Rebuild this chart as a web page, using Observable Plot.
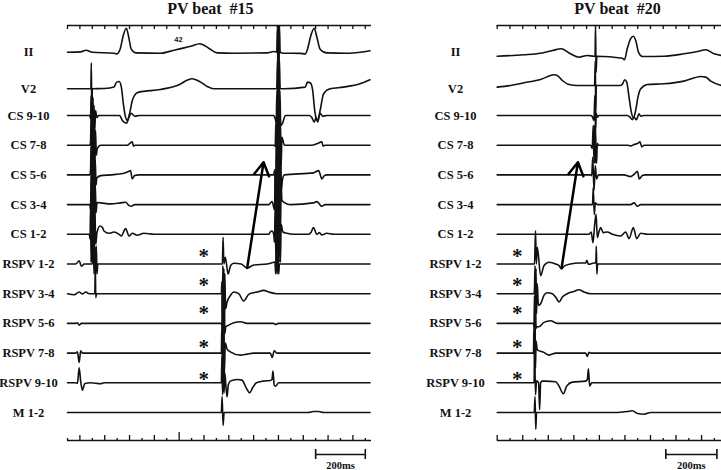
<!DOCTYPE html>
<html><head><meta charset="utf-8">
<script src="https://cdn.jsdelivr.net/npm/d3@7"></script>
<script src="https://cdn.jsdelivr.net/npm/@observablehq/plot@0.6"></script>
<style>
body{margin:0;background:#fff;}
#wrap{position:relative;width:721px;height:470px;overflow:hidden;background:#fff;}
#wrap svg{position:absolute;top:0;}
</style></head><body><div id="wrap"></div>
<script>
// ---------- labels ----------
const channels = ["II","V2","CS 9-10","CS 7-8","CS 5-6","CS 3-4","CS 1-2","RSPV 1-2","RSPV 3-4","RSPV 5-6","RSPV 7-8","RSPV 9-10","M 1-2"];
const titles = ["PV beat  #15","PV beat  #20"];
const scaleLabel = "200ms";
const markerLabel = "42";

// ---------- PV beat #15 : [time ms, amplitude] ----------
const b15_II = [[0,0],[53,0.3],[74,2],[100,0],[187,-1],[198,-1.7],[212,3],[225,17],[237,24],[246,16],[257,3],[275,-0.7],[375,-1],[429,2],[496,6],[533,8.5],[569,4],[603,-0.7],[670,-1],[804,-0.7],[831,0.7],[843,0],[846,26.7],[848,-28],[850,26.7],[852,-28],[854,26.7],[857,0],[871,-1],[938,-1.2],[958,-1.7],[967,3],[981,17],[994,24],[1005,15],[1018,3],[1045,-0.7],[1125,-1],[1179,0],[1219,1.5]];
const b15_V2 = [[0,0],[94,0],[96,26],[98,-26],[100,0],[150,0.3],[187,1.7],[198,6.7],[208,7.3],[217,1.7],[225,-15],[234,-28.3],[241,-31.7],[250,-25],[261,-11.7],[275,-5],[288,-3.3],[375,-0.7],[442,3.3],[502,10],[536,6.7],[563,2.3],[589,0],[831,0],[843,0],[846,28],[848,-28],[850,28],[852,-28],[854,28],[857,0],[871,0],[958,1.7],[967,6.7],[978,6],[987,0],[998,-25],[1008,-31.7],[1018,-21.7],[1032,-5],[1058,0],[1112,1.7],[1179,5],[1219,9]];
const b15_CS910 = [[0,0],[90,0],[93,-3],[95,20],[97,-15],[99,20],[101,-20],[103,18],[105,-18],[107,10],[110,-15],[113,5],[118,-2],[125,0],[210,0],[221,-5],[238,-7.7],[248,-1.7],[257,2.3],[271,-0.7],[288,0],[831,0],[837,-3.3],[841,-6.7],[844,25],[847,-28],[850,28],[853,-28],[856,25],[859,-10],[866,-8],[878,0],[975,0],[985,-2.3],[994,-6.7],[1002,-1.7],[1008,-6.7],[1018,2.3],[1028,-0.7],[1045,0],[1219,0]];
const b15_CS78 = [[0,0],[90,0],[93,3],[95,28],[97,-28],[99,28],[101,-28],[103,28],[105,-28],[107,25],[110,-25],[113,15],[116,-10],[120,-3.3],[134,0],[241,0],[250,1.5],[261,3.3],[266,-1],[272,0],[831,0],[837,-1],[840,25],[843,-28],[846,28],[849,-28],[852,28],[855,-28],[858,25],[861,-20],[864,8],[868,5],[874,0],[985,0],[1005,1.5],[1025,3.3],[1030,-1],[1038,0],[1219,0]];
const b15_CS56 = [[0,0],[90,0],[93,5],[95,28],[97,-28],[99,28],[101,-28],[103,28],[105,-28],[107,28],[109,-28],[112,15],[115,-10],[118,-3],[134,-0.7],[174,0],[228,1.7],[248,3.7],[254,4.3],[261,-4],[271,-0.7],[288,0],[831,0],[835,5],[838,-28],[841,28],[844,-28],[847,28],[850,-28],[853,28],[856,-28],[859,28],[862,-15],[866,-5],[874,0],[991,2],[1012,4.3],[1025,-4],[1035,-0.7],[1045,0],[1219,0]];
const b15_CS34 = [[0,0],[90,0],[93,-5],[95,28],[97,-28],[99,28],[101,-28],[103,28],[105,-28],[107,28],[109,-28],[112,20],[115,-8],[119,2],[134,1.7],[174,0.7],[214,1.7],[234,2.3],[248,-1],[257,-1.7],[271,0],[811,0],[824,3],[831,-2.7],[834,-5],[837,28],[840,-28],[843,28],[846,-28],[849,28],[852,-28],[855,28],[858,-28],[861,20],[864,4],[884,0.7],[900,0],[991,1.7],[1005,3],[1025,-1.7],[1038,0],[1219,0]];
const b15_CS12 = [[0,0],[88,0],[91,-5],[93,28],[95,-28],[97,28],[99,-28],[101,28],[103,-28],[105,28],[107,-28],[110,25],[114,-10],[119,2],[131,8.3],[141,6.7],[147,3.3],[167,1],[187,2.3],[208,0],[217,-1.7],[234,5.7],[248,-1.7],[261,1],[281,-1],[308,1],[348,0],[811,0],[817,2.3],[824,3.3],[831,0],[834,-8],[837,28],[840,-28],[843,28],[846,-28],[849,28],[852,-28],[855,28],[858,-28],[861,10],[868,2.3],[884,1],[911,0],[971,0],[981,1.7],[991,6.7],[1005,0],[1015,1.7],[1025,-0.7],[1045,1],[1072,0],[1219,0]];
const b15_RSPV12 = [[0,0],[33,0],[47,3.3],[56,-2.3],[67,0],[100,0],[104,18],[107,-10],[110,18],[113,-10],[116,18],[119,-10],[122,0],[620,0],[624,0],[627,26.6],[630,0],[636,6.7],[647,-10],[657,-1.7],[670,0.7],[700,0],[724,-4],[750,-1],[804,0],[831,1.7],[836,2],[839,-10],[842,18],[845,-10],[848,18],[851,-10],[854,0],[871,0],[1219,0]];
const b15_RSPV34 = [[0,0],[27,-1],[47,1.7],[60,-0.3],[74,1.7],[87,0],[110,0],[112,28],[114,-4],[117,0],[620,0],[622,12],[624,-20],[626,28],[628,-28],[630,25],[632,-28],[634,20],[637,-15],[643,-8.3],[657,-1.7],[670,1.7],[690,0],[710,-7.3],[730,-0.7],[764,1.7],[791,3.3],[811,1.7],[844,0],[1219,0]];
const b15_RSPV56 = [[0,0],[33,0],[40,0.7],[47,-1.7],[56,0],[620,0],[622,-2],[624,28],[626,-28],[628,28],[630,-28],[632,28],[634,-10],[638,-3.3],[650,-1.7],[670,0.7],[697,1.7],[723,0],[830,0],[837,-1],[850,0],[1219,0]];
const b15_RSPV78 = [[0,0],[33,0],[40,1.3],[47,-9.3],[53,2.3],[60,0],[620,0],[622,28],[624,-25],[626,28],[628,-25],[630,28],[632,-20],[636,10],[643,4],[656,1.3],[697,-2],[723,-1],[750,0],[817,0],[825,-4.3],[833,2.3],[844,0],[1219,0]];
const b15_RSPV910 = [[0,0],[33,0],[40,-0.7],[47,15],[53,1.7],[60,-7.3],[70,-0.7],[94,0],[134,-1],[147,0],[620,0],[622,25],[625,-12],[628,20],[631,-10],[634,10],[638,-2],[643,-14],[648,-2],[656,1.7],[683,3.3],[703,2.7],[720,-5],[734,-10],[746,-5],[761,0],[790,1.7],[817,2.3],[824,3.3],[828,11.7],[833,-2.7],[839,-3.3],[851,0],[1219,0]];
const b15_M12 = [[0,0],[620,0],[623,16],[627,-13],[631,0],[970,0],[991,1],[1012,1],[1032,0],[1219,0]];

// ---------- PV beat #20 ----------
const b20_II = [[0,-4],[105,-2.6],[170,-1],[216,1.7],[251,3.4],[287,-1.6],[320,-5],[353,-3.3],[379,-4],[383,-4],[385,26.7],[387,-20],[390,-4],[490,-6],[498,-7.6],[509,3.4],[522,13.4],[533,16],[543,11],[553,0],[568,-4.3],[653,-4],[731,-1.6],[784,0.7],[816,2.4],[849,-1.6],[878,-3.3]];
const b20_V2 = [[0,1.7],[52,3.3],[105,6],[170,9.3],[222,14],[235,13.3],[255,8.3],[281,4.3],[314,3.3],[366,3.3],[381,3.3],[384,28],[386,-25],[388,3.3],[483,3.3],[491,5],[499,9],[507,6.7],[516,-8.3],[525,-23.3],[533,-29],[542,-21.7],[551,-8.3],[562,0],[588,4.3],[653,5],[731,7.7],[797,12.3],[816,11.7],[836,7.7],[878,3.3]];
const b20_CS910 = [[0,0],[366,0],[372,-1],[379,-5],[382,20],[385,-15],[388,2],[392,-1.7],[398,0],[510,0],[520,-1.7],[529,-4.3],[536,-1.7],[545,-4.3],[555,1.7],[562,-0.7],[575,0],[878,0]];
const b20_CS78 = [[0,0],[366,0],[372,-3.3],[376,20],[379,-18],[381,20],[383,-18],[385,15],[387,-10],[389,-18],[392,2],[396,0],[510,0],[522,-0.7],[536,0.7],[549,1.7],[559,3.3],[566,-1.7],[575,0],[878,0]];
const b20_CS56 = [[0,0],[366,0],[370,-0.7],[374,17.7],[379,-15.7],[384,9.3],[389,-4],[396,0],[496,0],[522,-1.7],[538,1],[549,3.7],[556,-4],[568,-0.7],[580,0],[878,0]];
const b20_CS34 = [[0,0],[373,0],[376,17],[380,-10],[384,1.7],[392,0],[522,0],[536,1.7],[549,-1.7],[562,0],[878,0]];
const b20_CS12 = [[0,0],[359,0],[368,2.3],[375,-8.3],[381,8.3],[387,20],[392,-3.3],[398,2.3],[405,6.7],[415,1.7],[431,2.3],[451,0],[483,-1.7],[503,2.3],[516,-4.3],[533,6.7],[546,-4.3],[562,1],[588,0],[878,0]];
const b20_RSPV12 = [[0,0],[146,0],[150,33.3],[153,0],[157,16.7],[170,-11.7],[183,-1.7],[203,1.7],[229,0],[242,-1.7],[252,-5],[261,-2.3],[287,0],[320,1],[346,1],[351,3.7],[357,-0.3],[379,1],[386,1],[388,18],[390,-10],[393,0],[400,0],[878,0]];
const b20_RSPV34 = [[0,0],[144,0],[146,5],[148,28],[150,-15],[152,25],[154,-20],[157,10],[161,-11.7],[170,-10],[183,-1.7],[196,1],[216,0],[233,-5],[242,-8.3],[255,-3.3],[274,0],[300,2.3],[320,4],[340,1.7],[366,0],[878,0]];
const b20_RSPV56 = [[0,0],[142,0],[144,-3],[146,28],[148,-28],[150,28],[152,-5],[156,-3.3],[163,-3.3],[183,1],[209,2.7],[235,0],[878,0]];
const b20_RSPV78 = [[0,0],[142,0],[144,28],[146,-20],[148,28],[150,-15],[152,12],[157,3.3],[183,0.7],[203,-2],[229,0],[346,0],[353,-3.3],[359,0.7],[366,0],[878,0]];
const b20_RSPV910 = [[0,0],[144,0],[147,25],[150,-12],[154,2],[162,0],[166,-26.7],[170,0],[176,1.7],[189,1.7],[229,1],[242,-3.3],[259,-11],[272,-3.3],[294,0.7],[346,1.7],[353,3.3],[357,14],[362,-3.3],[370,0],[878,0]];
const b20_M12 = [[0,0],[145,0],[148,16],[151,-16.7],[154,0],[470,0],[509,1],[529,1.7],[549,-1],[575,-1.7],[601,0],[878,0]];

// annotations (time ms, channel index, amplitude)
const arrow15 = [[724, 7, -4], [790, 4, 12.6]];
const arrow20 = [[252, 7, -4], [316, 4, 12.6]];
const starTime15 = 549, starTime20 = 78;
const starChannels = [7, 8, 9, 10, 11];
const bar15 = [1000, 1200], bar20 = [660, 860];
const marker15 = 447;

// ---------- layout ----------
const laneY = i => i === 0 ? 51.7 : i === 1 ? 88.3 : 115 + (i - 2) * 29.7;
const starLift = [8, 8, 10, 6.3, 3.5];
const TOP = 25, BOT = 440, BAR = 454;
const serif = "Liberation Serif, Times New Roman, serif";

function rows(traces) {
  return traces.flatMap((tr, i) => tr.map(([t, a]) => ({t, y: laneY(i) - a, ch: i})));
}

function panel(cfg) {
  const ticks = d3.range(0, cfg.tmax - 20, 50);
  const [a0, a1] = cfg.arrow;
  const arrowData = [{x1: a0[0], y1: laneY(a0[1]) - a0[2], x2: a1[0], y2: laneY(a1[1]) - a1[2]}];
  const marks = [
    Plot.ruleY([TOP], {x1: 0, x2: cfg.tmax, stroke: "#111", strokeWidth: 1.6}),
    Plot.ruleX(ticks, {x: d => d, y1: TOP, y2: TOP + 4, stroke: "#111", strokeWidth: 1.3}),
    Plot.ruleY([BOT], {x1: 0, x2: cfg.tmax, stroke: "#111", strokeWidth: 1.6}),
    Plot.ruleX(ticks, {x: d => d, y1: BOT, y2: d => BOT - cfg.tickH(d), stroke: "#111", strokeWidth: 1.3}),
    Plot.line(rows(cfg.traces), {x: "t", y: "y", z: "ch", curve: "monotone-x", stroke: "#111", strokeWidth: 1.6}),
    Plot.text(channels, {x: 0, y: (d, i) => laneY(i), text: d => d, dx: cfg.labelDx, textAnchor: "middle",
      fontFamily: serif, fontWeight: "bold", fontSize: 12.5, fill: "#111"}),
    Plot.text(starChannels, {x: cfg.starT, y: (c, i) => laneY(c) - starLift[i], text: () => "*",
      fontFamily: serif, fontWeight: "bold", fontSize: 21, fill: "#111"}),
    Plot.arrow(arrowData, {x1: "x1", y1: "y1", x2: "x2", y2: "y2", stroke: "#000", strokeWidth: 2.5, headLength: 9}),
    Plot.text([cfg.title], {x: cfg.titleT, y: 8, text: d => d, fontFamily: serif, fontWeight: "bold", fontSize: 16, fill: "#111"}),
    Plot.ruleY([BAR], {x1: cfg.bar[0], x2: cfg.bar[1], stroke: "#111", strokeWidth: 1.6}),
    Plot.ruleX(cfg.bar, {x: d => d, y1: BAR - 5, y2: BAR + 5, stroke: "#111", strokeWidth: 1.6}),
    Plot.text([scaleLabel], {x: (cfg.bar[0] + cfg.bar[1]) / 2, y: 465, text: d => d, fontFamily: serif, fontWeight: "bold", fontSize: 10.5, fill: "#111"})
  ];
  if (cfg.marker != null) {
    marks.push(Plot.text([markerLabel], {x: cfg.marker, y: 39, text: d => d, fontFamily: "Liberation Sans, Arial, sans-serif", fontWeight: "bold", fontSize: 7.5, fill: "#111"}));
  }
  const svg = Plot.plot({
    width: cfg.width, height: 470,
    marginLeft: cfg.ml, marginRight: cfg.mr, marginTop: 0, marginBottom: 0,
    x: {domain: [0, cfg.tmax], axis: null},
    y: {domain: [0, 470], range: [0, 470], axis: null},
    marks
  });
  svg.style.left = cfg.left + "px";
  svg.style.overflow = "visible";
  return svg;
}

const wrap = document.getElementById("wrap");
wrap.appendChild(panel({
  traces: [b15_II, b15_V2, b15_CS910, b15_CS78, b15_CS56, b15_CS34, b15_CS12, b15_RSPV12, b15_RSPV34, b15_RSPV56, b15_RSPV78, b15_RSPV910, b15_M12],
  width: 380, ml: 67, mr: 9, left: 0, tmax: 1225,
  tickH: t => t === 450 ? 8 : ((t / 50) % 2 === 1 ? 5 : 2),
  labelDx: -39, title: titles[0], titleT: 576, starT: starTime15,
  arrow: arrow15, bar: bar15, marker: marker15
}));
wrap.appendChild(panel({
  traces: [b20_II, b20_V2, b20_CS910, b20_CS78, b20_CS56, b20_CS34, b20_CS12, b20_RSPV12, b20_RSPV34, b20_RSPV56, b20_RSPV78, b20_RSPV910, b20_M12],
  width: 341, ml: 116.7, mr: 0, left: 380, tmax: 878,
  tickH: t => ((t / 50) % 2 === 0 ? 5 : 2),
  labelDx: -41.7, title: titles[1], titleT: 471, starT: starTime20,
  arrow: arrow20, bar: bar20, marker: null
}));
</script>
</body></html>
